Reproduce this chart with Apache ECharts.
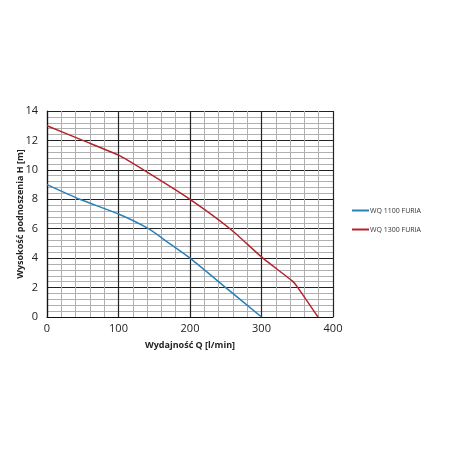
<!DOCTYPE html>
<html><head><meta charset="utf-8">
<script src="https://cdn.jsdelivr.net/npm/echarts@6/dist/echarts.min.js"></script>
<style>html,body{margin:0;padding:0;background:#fff}#c{width:450px;height:450px}</style>
</head><body><div id="c"></div>
<script>
const xTicks = [0, 100, 200, 300, 400];
const yTicks = [0, 2, 4, 6, 8, 10, 12, 14];
const seriesNames = ['WQ 1100 FURIA', 'WQ 1300 FURIA'];
const q1100 = [0, 46, 100, 142, 172, 200, 250, 300];
const h1100 = [9, 8, 7, 6, 4.97, 4, 2, 0];
const q1300 = [0, 50, 100, 135, 200, 256, 302, 343, 350, 379];
const h1300 = [13, 12, 11, 10, 8, 6, 4, 2.45, 2.05, 0];

const pairs = (q, h) => q.map((v, i) => [v, h[i]]);
const chart = echarts.init(document.getElementById('c'));
chart.setOption({
  animation: false,
  backgroundColor: '#fff',
  textStyle: { fontFamily: 'Open Sans' },
  grid: { left: 47, right: 117, top: 111, bottom: 133, outerBoundsMode: 'none', containLabel: false },
  legend: {
    orient: 'vertical', left: 347, top: 202, itemGap: 12,
    itemWidth: 17, itemHeight: 2, icon: 'rect',
    textStyle: { fontSize: 7, color: '#333', fontFamily: 'Open Sans', padding: [0, 0, 0, -4] },
    data: seriesNames
  },
  xAxis: {
    type: 'value', min: xTicks[0], max: xTicks[xTicks.length - 1], interval: 100,
    name: 'Wydajność Q [l/min]', nameLocation: 'middle', nameGap: 24, nameMoveOverlap: false,
    nameTextStyle: { fontSize: 9, fontWeight: 'bold', color: '#222' },
    axisLine: { show: true, lineStyle: { color: '#111', width: 1.2 } },
    axisTick: { show: false },
    axisLabel: { fontSize: 11, color: '#222', margin: 6 },
    splitLine: { show: true, lineStyle: { color: '#222', width: 1.2 } },
    minorTick: { show: false, splitNumber: 5 },
    minorSplitLine: { show: true, lineStyle: { color: '#b0b0b0', width: 1 } }
  },
  yAxis: {
    type: 'value', min: yTicks[0], max: yTicks[yTicks.length - 1], interval: 2,
    name: 'Wysokość podnoszenia H [m]', nameLocation: 'middle', nameGap: 22, nameMoveOverlap: false,
    nameTextStyle: { fontSize: 9, fontWeight: 'bold', color: '#222' },
    axisLine: { show: true, lineStyle: { color: '#111', width: 1.2 } },
    axisTick: { show: false },
    axisLabel: { fontSize: 11, color: '#222', margin: 9 },
    splitLine: { show: true, lineStyle: { color: '#222', width: 1.2 } },
    minorTick: { show: false, splitNumber: 5 },
    minorSplitLine: { show: true, lineStyle: { color: '#b0b0b0', width: 1 } }
  },
  series: [
    { name: seriesNames[0], type: 'line', data: pairs(q1100, h1100), showSymbol: false,
      smooth: 0.2, lineStyle: { color: '#2a80b9', width: 1.5 }, itemStyle: { color: '#2a80b9' } },
    { name: seriesNames[1], type: 'line', data: pairs(q1300, h1300), showSymbol: false,
      smooth: 0.2, lineStyle: { color: '#b5232a', width: 1.5 }, itemStyle: { color: '#b5232a' } }
  ]
});
</script></body></html>
